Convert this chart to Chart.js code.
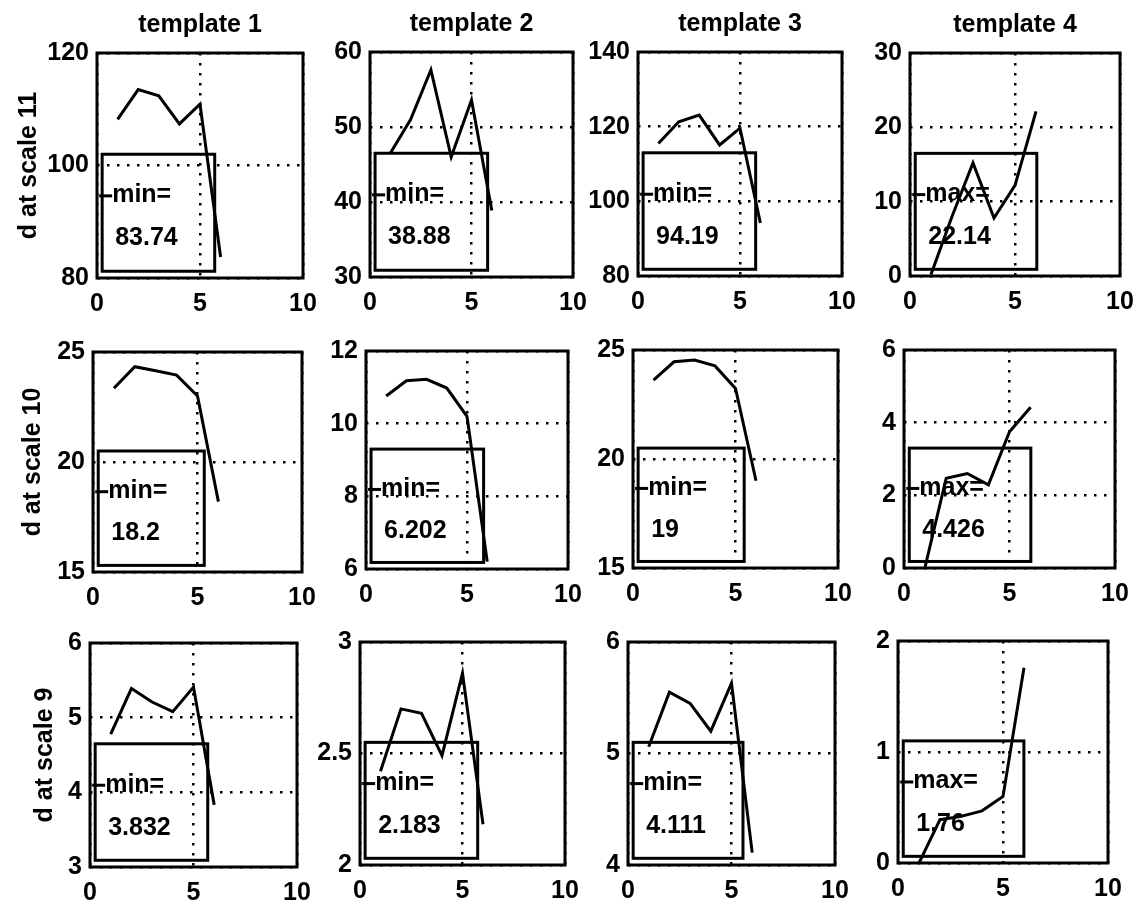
<!DOCTYPE html>
<html><head><meta charset="utf-8">
<script src="https://cdn.jsdelivr.net/npm/chart.js@4.4.0/dist/chart.umd.min.js"></script>
<style>
html,body{margin:0;padding:0;background:#fff;}
#wrap{position:relative;width:1138px;height:905px;overflow:hidden;background:#fff;}
canvas{position:absolute;}
</style></head><body><div id="wrap"></div>
<script>
// ---- data ----
const xValues = [1, 2, 3, 4, 5, 6];
const templates = ['template 1', 'template 2', 'template 3', 'template 4'];
const yTitles = ['d at scale 11', 'd at scale 10', 'd at scale 9'];
const xTicks = [0, 5, 10];
// scale 11
const s11t1 = [108.2, 113.5, 112.4, 107.4, 110.9, 83.74];
const s11t2 = [46.5, 51.0, 57.6, 46.0, 53.6, 38.88];
const s11t3 = [115.5, 121.3, 123.1, 115.1, 119.6, 94.19];
const s11t4 = [0.2, 8.0, 15.2, 7.8, 12.2, 22.14];
// scale 10
const s10t1 = [23.35, 24.33, 24.15, 23.95, 23.0, 18.2];
const s10t2 = [10.76, 11.18, 11.22, 10.98, 10.2, 6.202];
const s10t3 = [23.62, 24.46, 24.54, 24.27, 23.24, 19];
const s10t4 = [0.03, 2.47, 2.6, 2.29, 3.75, 4.426];
// scale 9
const s9t1 = [4.78, 5.39, 5.21, 5.08, 5.41, 3.832];
const s9t2 = [2.42, 2.70, 2.68, 2.49, 2.86, 2.183];
const s9t3 = [5.06, 5.55, 5.45, 5.2, 5.63, 4.111];
const s9t4 = [0.0, 0.39, 0.42, 0.47, 0.6, 1.76];
// y tick labels
const yT11 = [[80, 100, 120], [30, 40, 50, 60], [80, 100, 120, 140], [0, 10, 20, 30]];
const yT10 = [[15, 20, 25], [6, 8, 10, 12], [15, 20, 25], [0, 2, 4, 6]];
const yT9 = [[3, 4, 5, 6], [2, 2.5, 3], [4, 5, 6], [0, 1, 2]];
const legendKinds = ['min', 'min', 'min', 'max'];

const seriesRows = [[s11t1, s11t2, s11t3, s11t4], [s10t1, s10t2, s10t3, s10t4], [s9t1, s9t2, s9t3, s9t4]];
const tickRows = [yT11, yT10, yT9];

// ---- layout (plot area rectangles, px) ----
const rowL = [[97, 370, 638, 910], [93, 366, 633, 904], [90, 360, 628, 898]];
const rowR = [[303, 573, 842, 1120], [302, 568, 838, 1115], [297, 565, 835, 1108]];
const rowT = [[53, 52, 52, 53], [352, 351, 350, 350], [643, 642, 642, 641]];
const rowB = [[278, 277, 276, 276], [572, 569, 568, 568], [867, 865, 865, 863]];
const yTitlePad = [2, 10, 25];
const PADL = 85, PADT = 50, PADR = 28, PADB = 42;
const FONT = '"Liberation Sans", Arial, Helvetica, sans-serif';

const framePlugin = {
  id: 'mbox',
  afterDraw(chart, args, opts) {
    const {ctx, chartArea: a} = chart;
    const W = a.right - a.left, H = a.bottom - a.top;
    ctx.save();
    ctx.strokeStyle = '#000';
    ctx.lineWidth = 3;
    ctx.strokeRect(a.left, a.top, W, H);
    const ys = chart.data.datasets[0].data.map(p => p.y);
    const val = opts.kind === 'min' ? Math.min(...ys) : Math.max(...ys);
    const valStr = String(Number(val.toPrecision(4)));
    const label = opts.kind + '=';
    const fs = 25;
    ctx.font = 'bold ' + fs + 'px ' + FONT;
    const bx = a.left + 0.025 * W;
    const tx = bx + 10;
    const wl = ctx.measureText(label).width, wv = ctx.measureText(valStr).width;
    const right = Math.max(tx + wl, tx + 3 + wv) + (opts.kind === 'max' ? 46 : 37);
    const by = a.top + 0.45 * H, bb = a.top + 0.97 * H;
    ctx.lineWidth = 3;
    ctx.strokeRect(bx, by, right - bx, bb - by);
    const ly = a.top + 0.635 * H, vy = a.top + 0.815 * H;
    ctx.beginPath(); ctx.moveTo(bx - 3, ly); ctx.lineTo(tx, ly); ctx.stroke();
    ctx.fillStyle = '#000';
    ctx.textAlign = 'left';
    ctx.textBaseline = 'alphabetic';
    ctx.fillText(label, tx, ly + 0.26 * fs);
    ctx.fillText(valStr, tx + 3, vy + 0.358 * fs);
    ctx.restore();
  }
};

const wrap = document.getElementById('wrap');
for (let r = 0; r < 3; r++) {
  for (let c = 0; c < 4; c++) {
    const L = rowL[r][c], R = rowR[r][c], T = rowT[r][c], B = rowB[r][c];
    const cv = document.createElement('canvas');
    const w = (R - L) + PADL + PADR, h = (B - T) + PADT + PADB;
    cv.width = w; cv.height = h;
    cv.style.width = w + 'px'; cv.style.height = h + 'px';
    cv.style.left = (L - PADL) + 'px'; cv.style.top = (T - PADT) + 'px';
    wrap.appendChild(cv);
    const series = seriesRows[r][c];
    const yt = tickRows[r][c];
    const tickFont = {family: FONT, size: 25, weight: 'bold'};
    new Chart(cv, {
      type: 'line',
      data: {datasets: [{
        data: xValues.map((x, i) => ({x: x, y: series[i]})),
        borderColor: '#000', borderWidth: 3, pointRadius: 0, tension: 0, fill: false
      }]},
      options: {
        responsive: false, animation: false, devicePixelRatio: 1,
        layout: {padding: {top: r === 0 ? 0 : PADT, right: PADR, left: 0, bottom: 0}},
        plugins: {
          legend: {display: false}, tooltip: {enabled: false},
          title: r === 0 ? {display: true, text: templates[c], fullSize: false, color: '#000',
            font: {family: FONT, size: 25, weight: 'bold', lineHeight: 1.2},
            padding: {top: 7, bottom: 13}} : {display: false},
          mbox: {kind: legendKinds[c]}
        },
        scales: {
          x: {
            type: 'linear', min: xTicks[0], max: xTicks[xTicks.length - 1],
            afterBuildTicks: s => { s.ticks = xTicks.map(v => ({value: v})); },
            afterFit: s => { s.height = PADB; },
            ticks: {color: '#000', font: tickFont, padding: 11, maxRotation: 0, autoSkip: false,
              callback: v => String(v)},
            grid: {color: '#000', lineWidth: 2.5, drawTicks: false},
            border: {display: false, dash: [2.5, 7.5]}
          },
          y: {
            type: 'linear', min: yt[0], max: yt[yt.length - 1],
            afterBuildTicks: s => { s.ticks = yt.map(v => ({value: v})); },
            afterFit: s => { s.width = PADL; },
            ticks: {color: '#000', font: tickFont, padding: 8, autoSkip: false,
              callback: v => String(Number(v.toFixed(4)))},
            title: c === 0 ? {display: true, text: yTitles[r], color: '#000',
              font: {family: FONT, size: 25, weight: 'bold', lineHeight: 1.2},
              padding: {top: yTitlePad[r], bottom: 0}} : {display: false},
            grid: {color: '#000', lineWidth: 2.5, drawTicks: false},
            border: {display: false, dash: [2.5, 7.5]}
          }
        }
      },
      plugins: [framePlugin]
    });
  }
}
</script></body></html>
